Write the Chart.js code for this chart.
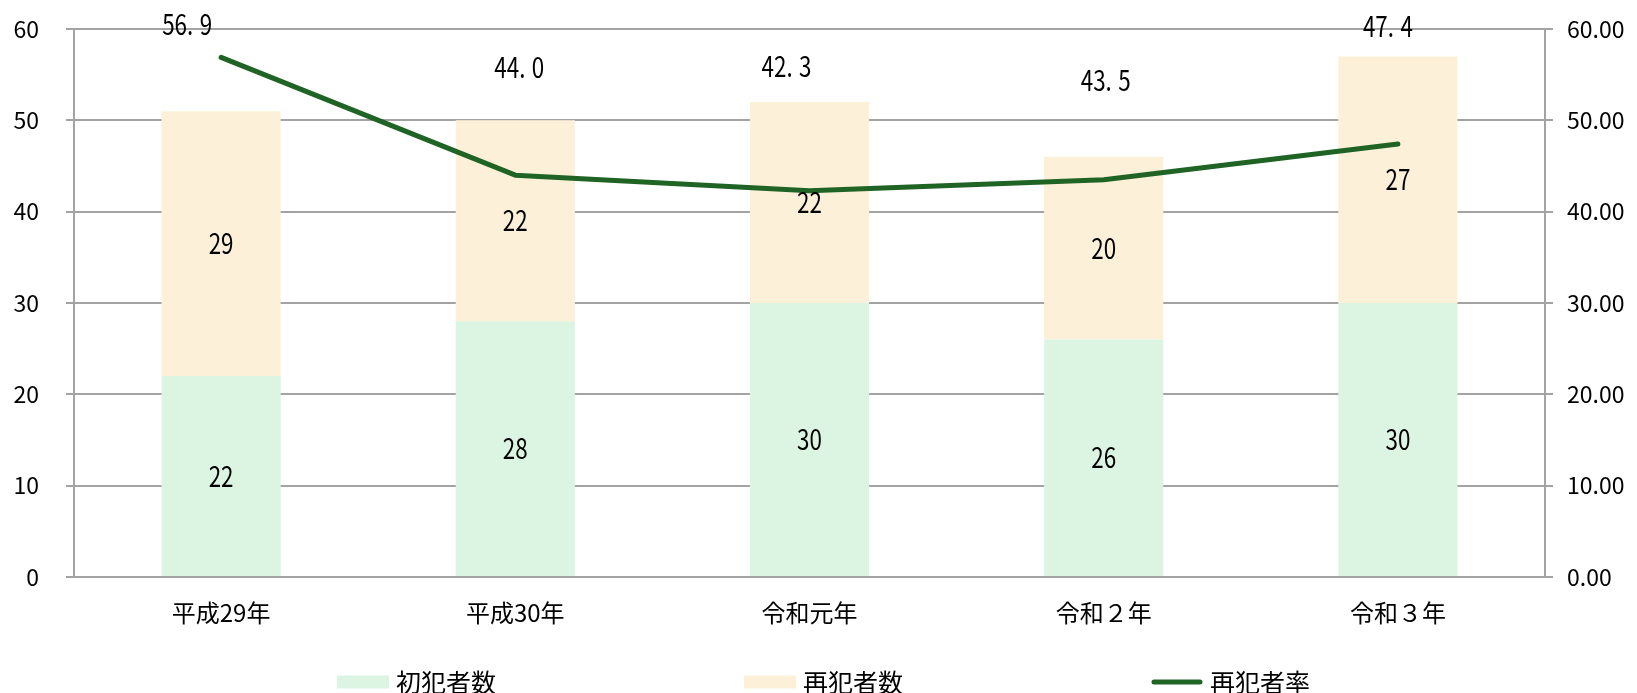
<!DOCTYPE html>
<html lang="ja">
<head>
<meta charset="utf-8">
<script src="https://cdn.jsdelivr.net/npm/chart.js@4.4.1/dist/chart.umd.min.js"></script>
<style>
  html, body { margin: 0; padding: 0; background: #fff; }
  #wrap { width: 1637px; height: 693px; }
</style>
</head>
<body>
<div id="wrap"><canvas id="offenderChart"></canvas></div>
<script>
// data
const years = ['平成29年', '平成30年', '令和元年', '令和２年', '令和３年'];
const firstOffenders = [22, 28, 30, 26, 30];
const repeatOffenders = [29, 22, 22, 20, 27];
const repeatRate = [56.9, 44.0, 42.3, 43.5, 47.4];
const countMax = 60;
const rateMax = 60;
const tickStep = 10;

const axisFont = "'Noto Sans CJK JP', sans-serif";
const gridColor = '#a3a3a3';

// value labels (Excel style, rate labels were moved by hand in the original)
// the original font is a narrow gothic, so squeeze the text a bit
const valueLabels = {
  id: 'valueLabels',
  afterDatasetsDraw(chart, args, opts) {
    const ctx = chart.ctx;
    const sx = opts.squeeze;
    chart.data.datasets.forEach((ds, i) => {
      let meta = chart.getDatasetMeta(i);
      meta.data.forEach((el, j) => {
        ctx.save();
        ctx.font = opts.font;
        ctx.fillStyle = '#000';
        ctx.textBaseline = 'middle';
        if (ds.type === 'line') {
          let off = opts.rateOffsets[j];
          let parts = ds.data[j].toFixed(1).split('.');
          let head = parts[0] + '.';
          let tail = parts[1];
          let hw = ctx.measureText(head).width;
          let tw = ctx.measureText(tail).width;
          let total = hw + opts.periodGap + tw;
          ctx.translate(el.x + off[0], el.y + off[1]);
          ctx.scale(sx, 1);
          ctx.textAlign = 'left';
          ctx.fillText(head, -total / 2, 0);
          ctx.fillText(tail, -total / 2 + hw + opts.periodGap, 0);
        } else {
          ctx.translate(el.x, (el.y + el.base) / 2);
          ctx.scale(sx, 1);
          ctx.textAlign = 'center';
          ctx.fillText(String(ds.data[j]), 0, 0);
        }
        ctx.restore();
      });
    });
  }
};

// legend spread out along the bottom
const bottomLegend = {
  id: 'bottomLegend',
  afterDraw(chart, args, opts) {
    const ctx = chart.ctx;
    ctx.save();
    ctx.font = opts.font;
    ctx.textAlign = 'left';
    ctx.textBaseline = 'middle';
    let y = opts.y;
    chart.data.datasets.forEach((ds, i) => {
      let tw = ctx.measureText(ds.label).width;
      let w = opts.boxWidth + opts.gap + tw;
      let left = chart.width / 2 + opts.shift + (i - 1) * opts.spacing - w / 2;
      if (ds.type === 'line') {
        ctx.strokeStyle = ds.borderColor;
        ctx.lineWidth = ds.borderWidth;
        ctx.lineCap = 'round';
        ctx.beginPath();
        ctx.moveTo(left + 3, y);
        ctx.lineTo(left + opts.boxWidth - 3, y);
        ctx.stroke();
      } else {
        ctx.fillStyle = ds.backgroundColor;
        ctx.fillRect(left, y - opts.boxHeight / 2, opts.boxWidth, opts.boxHeight);
      }
      ctx.fillStyle = '#000';
      ctx.fillText(ds.label, left + opts.boxWidth + opts.gap, y);
    });
    ctx.restore();
  }
};

let chartdata = {};
chartdata.labels = years;
chartdata.datasets = [
  { type: 'bar', label: '初犯者数', data: firstOffenders, backgroundColor: '#dcf5e3', yAxisID: 'y', order: 1,
    categoryPercentage: 1, barPercentage: 0.405 },
  { type: 'bar', label: '再犯者数', data: repeatOffenders, backgroundColor: '#fdf0d9', yAxisID: 'y', order: 1,
    categoryPercentage: 1, barPercentage: 0.405 },
  { type: 'line', label: '再犯者率', data: repeatRate, borderColor: '#1f6424', borderWidth: 5, yAxisID: 'y1', order: 0,
    pointRadius: 0, tension: 0, borderCapStyle: 'round', borderJoinStyle: 'round', fill: false }
];

let options = {};
options.responsive = true;
options.maintainAspectRatio = false;
options.animation = false;
options.layout = { padding: { top: 29, left: 0, right: 0, bottom: 0 } };
options.plugins = {
  legend: { display: false },
  tooltip: { enabled: false },
  valueLabels: {
    font: '28px ' + axisFont,
    squeeze: 0.8,
    periodGap: 8,
    rateOffsets: [[-34, -33], [4, -108], [-23, -124], [2, -99], [-10, -118]]
  },
  bottomLegend: { font: '25px ' + axisFont, y: 682, boxWidth: 52, boxHeight: 13, gap: 7, spacing: 407, shift: 5 }
};
// small lineHeight on the y ticks so the tick padding doesn't push the plot area down
options.scales = {
  x: {
    stacked: true,
    grid: { display: false },
    border: { color: gridColor, width: 2 },
    ticks: { color: '#000', font: { family: axisFont, size: 24 }, padding: 13 },
    afterFit: s => { s.height = 116; }
  },
  y: {
    stacked: true,
    position: 'left',
    min: 0, max: countMax,
    ticks: { stepSize: tickStep, color: '#000', font: { family: axisFont, size: 23, lineHeight: 0.1 }, padding: 27 },
    grid: { color: gridColor, lineWidth: 2, tickLength: 8 },
    border: { color: gridColor, width: 2 },
    afterFit: s => { s.width = 74; }
  },
  y1: {
    position: 'right',
    min: 0, max: rateMax,
    ticks: { stepSize: tickStep, color: '#000', font: { family: axisFont, size: 23, lineHeight: 0.1 }, padding: 14,
      callback: v => v.toFixed(2) },
    grid: { drawOnChartArea: false, color: gridColor, lineWidth: 2, tickLength: 8 },
    border: { color: gridColor, width: 2 },
    afterFit: s => { s.width = 92; }
  }
};

new Chart(document.getElementById('offenderChart'), {
  type: 'bar',
  data: chartdata,
  options: options,
  plugins: [valueLabels, bottomLegend]
});
</script>
</body>
</html>
